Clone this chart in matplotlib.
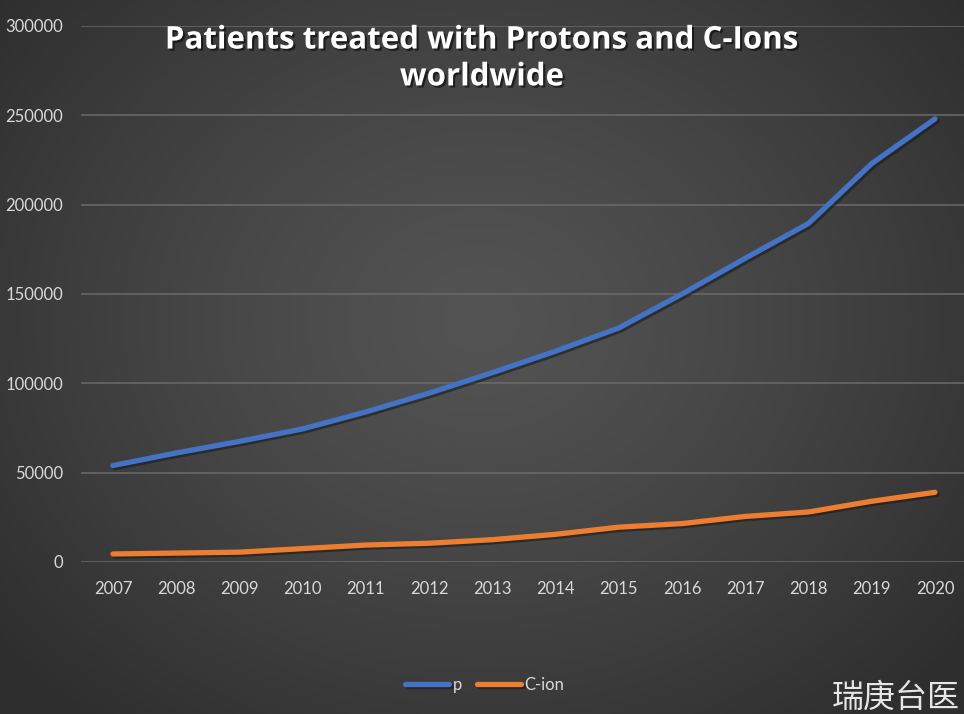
import numpy as np
import matplotlib
matplotlib.use("Agg")
import matplotlib.pyplot as plt
import matplotlib.patheffects as pe

years = ["2007", "2008", "2009", "2010", "2011", "2012", "2013",
         "2014", "2015", "2016", "2017", "2018", "2019", "2020"]
protons = [54000, 61000, 67500, 74500, 84000, 94500, 106000,
           118000, 131000, 150000, 170000, 189500, 223000, 248000]
carbon_ions = [4500, 5000, 5500, 7500, 9500, 10500, 12500,
               15500, 19500, 21500, 25500, 28000, 34000, 39000]
title_text = "Patients treated with Protons and C-Ions\nworldwide"
series_names = ["p", "C-ion"]
watermark = "瑞庚台医"

W, H = 964, 714
fig = plt.figure(figsize=(W / 100, H / 100), dpi=100)

# radial gradient background
bg = fig.add_axes([0, 0, 1, 1], zorder=0)
yy, xx = np.mgrid[0:H, 0:W]
r = np.sqrt(((xx - 480) / 620.0) ** 2 + ((yy - 320) / 520.0) ** 2)
r = np.clip(r, 0, 1)
val = 0x53 - (0x53 - 0x2e) * r ** 1.3
img = np.dstack([val, val, val]) / 255.0
bg.imshow(img, extent=[0, W, H, 0], aspect="auto", interpolation="bilinear")
bg.set_xlim(0, W)
bg.set_ylim(H, 0)
bg.axis("off")

left = 81 / W
bottom = 1 - 562 / H
top = 1 - 26 / H
ax = fig.add_axes([left, bottom, 1 - left, top - bottom], zorder=1)
ax.patch.set_alpha(0)
x = np.arange(len(years))
ax.set_xlim(-0.506, 13.459)
ax.set_ylim(0, 300000)
ax.set_yticks(np.arange(0, 300001, 50000))
ax.set_yticklabels([str(v) for v in range(0, 300001, 50000)])
ax.set_xticks(x)
ax.set_xticklabels(years)
for s in ax.spines.values():
    s.set_visible(False)
ax.grid(axis="y", color="#6b6b6b", linewidth=1.1)
ax.set_axisbelow(True)
ax.tick_params(axis="both", length=0, colors="#d9d9d9", labelsize=12)
ax.tick_params(axis="y", pad=13)
ax.tick_params(axis="x", pad=14)
for lab in ax.get_xticklabels() + ax.get_yticklabels():
    lab.set_fontfamily("Lato")
    lab.set_color("#d9d9d9")

shadow = [pe.SimpleLineShadow(offset=(1.5, -1.5), shadow_color="#1a1a1a", alpha=0.6), pe.Normal()]
l1, = ax.plot(x, protons, color="#4472C4", linewidth=3.8, solid_capstyle="round",
              solid_joinstyle="round", label=series_names[0], path_effects=shadow, clip_on=False)
l2, = ax.plot(x, carbon_ions, color="#ED7D31", linewidth=3.8, solid_capstyle="round",
              solid_joinstyle="round", label=series_names[1], path_effects=shadow, clip_on=False)

leg = fig.legend(handles=[l1, l2], loc="center", bbox_to_anchor=(485 / W, 1 - 685 / H),
                 ncol=2, frameon=False, handlelength=2.6, handletextpad=0.25,
                 columnspacing=0.9, prop={"family": "Lato", "size": 12})
for t in leg.get_texts():
    t.set_color("#d9d9d9")

fig.text(482 / W, 1 - 59 / H, title_text, ha="center", va="center", color="white",
         fontsize=22.5, fontweight="bold", family="Open Sans", linespacing=1.3,
         path_effects=[pe.SimplePatchShadow(offset=(1.5, -1.5), shadow_rgbFace="black", alpha=0.55),
                       pe.Normal()])

fig.text(832 / W, 1 - 698 / H, watermark, ha="left", va="center", color="#e6e6e6",
         fontsize=23, family=["Noto Sans CJK SC", "DejaVu Sans"])

fig.savefig("out.png", dpi=100)
